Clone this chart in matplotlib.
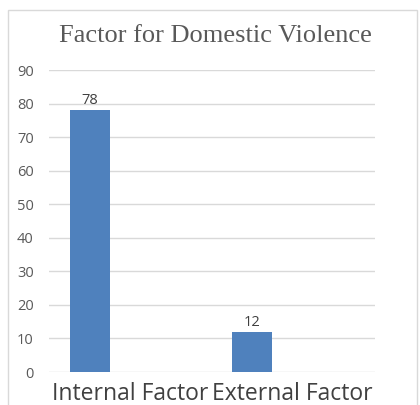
import numpy as np
import matplotlib.pyplot as plt
from matplotlib.patches import Rectangle

categories = ['Internal Factor', 'External Factor']
values = [78, 12]
bar_pos = np.array([0, 1])
label_pos = bar_pos + 0.25

fig = plt.figure(figsize=[4.2, 4.05], dpi=100)
fig.patch.set_facecolor('white')
fig.add_artist(Rectangle((8 / 420, -0.1), 409 / 420, 1.1 - 10 / 405,
                         transform=fig.transFigure, fill=False,
                         edgecolor='#d9d9d9', linewidth=1.0))

ax = fig.add_axes([49 / 420, 1 - 372 / 405, 326 / 420, 302 / 405])
bars = ax.bar(bar_pos, values, width=0.25, color='#4f81bd', zorder=3)
for b, v in zip(bars, values):
    ax.text(b.get_x() + b.get_width() / 2, v + 0.6, str(v), ha='center', va='bottom',
            fontsize=10.5, color='#404040', family='Open Sans')

ax.set_ylim(0, 90)
ax.set_xlim(-0.253, 1.759)
ax.set_yticks(range(0, 91, 10))
ax.yaxis.grid(True, color='#d9d9d9', linewidth=1.0, zorder=0)
ax.set_xticks(label_pos)
ax.set_xticklabels(categories, fontsize=16.5, color='#404040', family='Open Sans')
ax.tick_params(axis='y', length=0, pad=11, labelsize=10.5, labelcolor='#595959')
ax.tick_params(axis='x', length=0, pad=7.5)
for label in ax.get_yticklabels():
    label.set_family('Open Sans')
for s in ax.spines.values():
    s.set_visible(False)

fig.text(215 / 420, 1 - 36 / 405, 'Factor for Domestic Violence', ha='center', va='center',
         fontsize=19, color='#595959', family='Liberation Serif')

plt.savefig('out.png', dpi=100)
